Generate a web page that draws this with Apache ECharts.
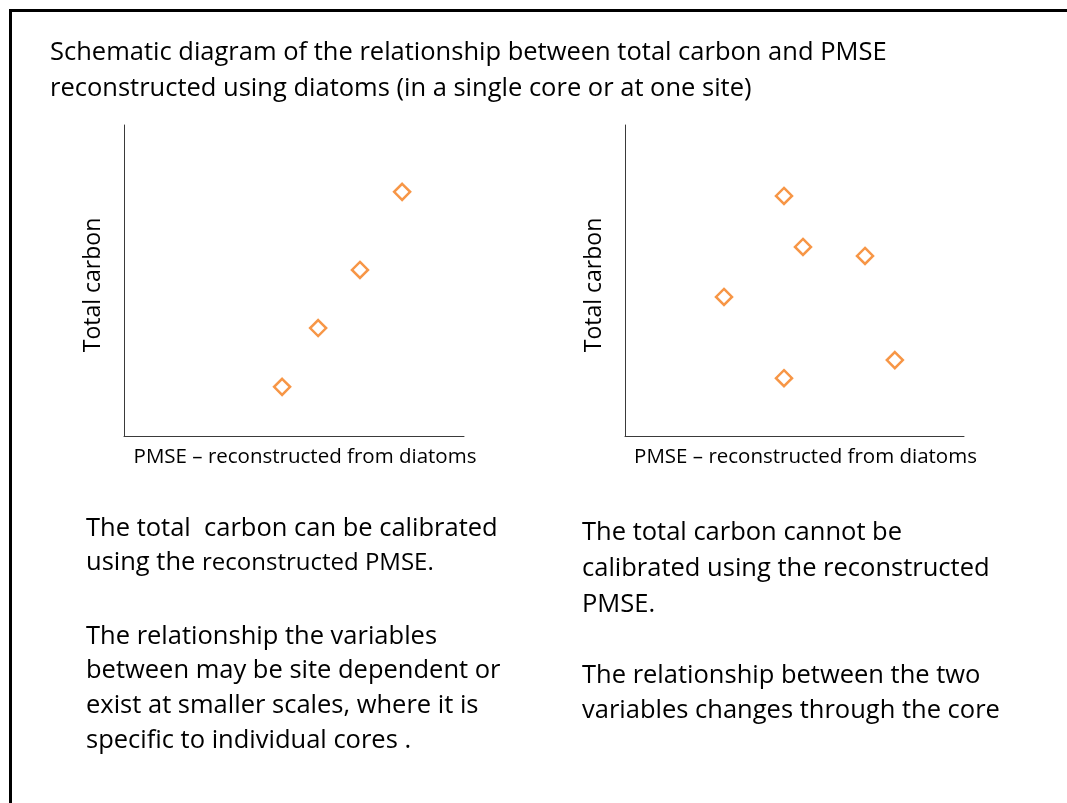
<!DOCTYPE html>
<html>
<head>
<meta charset="utf-8">
<script src="https://cdn.jsdelivr.net/npm/echarts@6/dist/echarts.min.js"></script>
<style>
  html, body { margin: 0; padding: 0; background: #fff; }
  #chart { width: 1067px; height: 803px; }
</style>
</head>
<body>
<div id="chart"></div>
<script>
// Schematic scatter values (arbitrary units, 0-10 on both axes)
const panelAPmse   = [4.65, 5.71, 6.94, 8.18];
const panelACarbon = [1.58, 3.47, 5.34, 7.85];

const panelBPmse   = [4.69, 5.25, 7.08, 2.92, 7.96, 4.69];
const panelBCarbon = [7.72, 6.08, 5.79, 4.47, 2.44, 1.86];

const xAxisTitle = 'PMSE \u2013 reconstructed from diatoms';
const yAxisTitle = 'Total carbon';

const headingLines = [
  'Schematic diagram of the relationship between total carbon and PMSE',
  'reconstructed using diatoms (in a single core or at one site)'
];

const FONT = '"Open Sans", Lato, sans-serif';
const BODY = 25.5;
const ORANGE = '#F79646';
const INK = '#000000';

function pairs(xs, ys) {
  return xs.map((x, i) => [x, ys[i]]);
}

function axisPair(gridIndex) {
  const axisLine = { show: true, lineStyle: { color: '#3a3a3a', width: 1 } };
  return {
    x: {
      type: 'value', gridIndex, min: 0, max: 10,
      axisLine, axisTick: { show: false }, axisLabel: { show: false },
      splitLine: { show: false },
      name: xAxisTitle, nameLocation: 'middle', nameGap: 11,
      nameTextStyle: { fontFamily: FONT, fontSize: 20.5, color: INK, padding: [0, 0, 0, 22], verticalAlign: 'top' }
    },
    y: {
      type: 'value', gridIndex, min: 0, max: 10,
      axisLine, axisTick: { show: false }, axisLabel: { show: false },
      splitLine: { show: false },
      name: yAxisTitle, nameLocation: 'middle', nameGap: 19,
      nameTextStyle: { fontFamily: FONT, fontSize: 23, color: INK, padding: [0, 9, 0, 0] }
    }
  };
}

const a0 = axisPair(0), a1 = axisPair(1);

const diamond = {
  type: 'scatter', symbol: 'diamond', symbolSize: 16,
  itemStyle: { color: '#ffffff', borderColor: ORANGE, borderWidth: 2.5, opacity: 1 },
  emphasis: { disabled: true }, silent: true
};

const graphics = [
  { type: 'rect', shape: { x: 10.5, y: 10.5, width: 3000, height: 3000 },
    style: { fill: 'none', stroke: '#000', lineWidth: 3 }, silent: true }
];

// heading
headingLines.forEach((t, i) => {
  graphics.push({ type: 'text', x: 50, y: 53 + i * 36,
    style: { text: t, font: BODY + 'px ' + FONT, fill: INK, verticalAlign: 'middle' } });
});

// left notes (one phrase is set a little smaller)
const leftNotes = [
  [{ t: 'The total  carbon can be calibrated', s: BODY }],
  [{ t: 'using the ', s: BODY }, { t: 'reconstructed PMSE.', s: 24 }],
  null,
  [{ t: 'The relationship the variables', s: BODY }],
  [{ t: 'between may be site dependent or', s: BODY }],
  [{ t: 'exist at smaller scales, where it is', s: BODY }],
  [{ t: 'specific to individual cores .', s: BODY }]
];
const leftY = [529, 563, null, 637, 671, 706, 741];
leftNotes.forEach((parts, i) => {
  if (!parts) return;
  const rich = {};
  let text = '';
  parts.forEach((p, k) => {
    rich['p' + k] = { fontSize: p.s, fontFamily: FONT, color: INK, lineHeight: 34, verticalAlign: 'middle' };
    text += '{p' + k + '|' + p.t + '}';
  });
  graphics.push({ type: 'text', x: 86, y: leftY[i],
    style: { text, rich, verticalAlign: 'middle', fill: INK } });
});

// right notes
const rightNotes = [
  'The total carbon cannot be',
  'calibrated using the reconstructed',
  'PMSE.',
  'The relationship between the two',
  'variables changes through the core'
];
const rightY = [533, 569, 605, 676, 711];
rightNotes.forEach((t, i) => {
  graphics.push({ type: 'text', x: 582, y: rightY[i],
    style: { text: t, font: BODY + 'px ' + FONT, fill: INK, verticalAlign: 'middle' } });
});

const chart = echarts.init(document.getElementById('chart'), null, { renderer: 'canvas' });
chart.setOption({
  animation: false,
  backgroundColor: '#ffffff',
  grid: [
    { left: 124, top: 125, width: 340, height: 311 },
    { left: 625, top: 125, width: 339, height: 311 }
  ],
  xAxis: [a0.x, a1.x],
  yAxis: [a0.y, a1.y],
  series: [
    Object.assign({}, diamond, { xAxisIndex: 0, yAxisIndex: 0, data: pairs(panelAPmse, panelACarbon) }),
    Object.assign({}, diamond, { xAxisIndex: 1, yAxisIndex: 1, data: pairs(panelBPmse, panelBCarbon) })
  ],
  graphic: graphics
});
</script>
</body>
</html>
